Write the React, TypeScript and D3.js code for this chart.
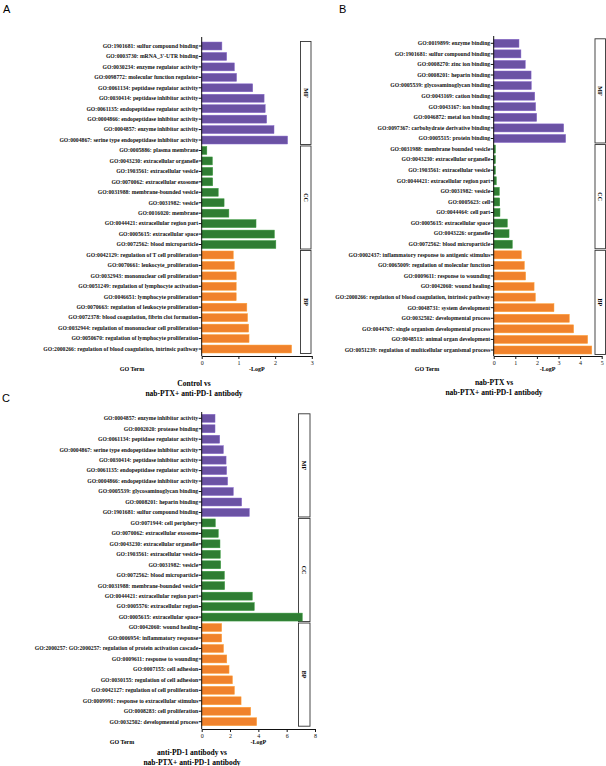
import { useEffect, useRef } from 'react';
import * as d3 from 'd3';

// GO categories, 10 terms each, top to bottom
const groupNames = ['MF', 'CC', 'BP'];
const groupSize = 10;

const termsA = [
  'GO:1901681: sulfur compound binding',
  "GO:0003730: mRNA_3'-UTR binding",
  'GO:0030234: enzyme regulator activity',
  'GO:0098772: molecular function regulator',
  'GO:0061134: peptidase regulator activity',
  'GO:0030414: peptidase inhibitor activity',
  'GO:0061135: endopeptidase regulator activity',
  'GO:0004866: endopeptidase inhibitor activity',
  'GO:0004857: enzyme inhibitor activity',
  'GO:0004867: serine type endopeptidase inhibitor activity',
  'GO:0005886: plasma membrane',
  'GO:0043230: extracellular organelle',
  'GO:1903561: extracellular vesicle',
  'GO:0070062: extracellular exosome',
  'GO:0031988: membrane-bounded vesicle',
  'GO:0031982: vesicle',
  'GO:0016020: membrane',
  'GO:0044421: extracellular region part',
  'GO:0005615: extracellular space',
  'GO:0072562: blood microparticle',
  'GO:0042129: regulation of T cell proliferation',
  'GO:0070661: leukocyte_proliferation',
  'GO:0032943: mononuclear cell proliferation',
  'GO:0051249: regulation of lymphocyte activation',
  'GO:0046651: lymphocyte proliferation',
  'GO:0070663: regulation of leukocyte proliferation',
  'GO:0072378: blood coagulation, fibrin clot formation',
  'GO:0032944: regulation of mononuclear cell proliferation',
  'GO:0050670: regulation of lymphocyte proliferation',
  'GO:2000266: regulation of blood coagulation, intrinsic pathway',
];
const valuesA = [
  0.55, 0.68, 0.89, 0.95, 1.39, 1.7, 1.73, 1.77, 1.97, 2.34,
  0.14, 0.29, 0.3, 0.3, 0.45, 0.61, 0.74, 1.48, 1.98, 2.02,
  0.86, 0.89, 0.94, 0.94, 0.94, 1.23, 1.25, 1.28, 1.29, 2.45,
];

const termsB = [
  'GO:0019899: enzyme binding',
  'GO:1901681: sulfur compound binding',
  'GO:0008270: zinc ion binding',
  'GO:0008201: heparin binding',
  'GO:0005539: glycosaminoglycan binding',
  'GO:0043169: cation binding',
  'GO:0043167: ion binding',
  'GO:0046872: metal ion binding',
  'GO:0097367: carbohydrate derivative binding',
  'GO:0005515: protein binding',
  'GO:0031988: membrane bounded vesicle',
  'GO:0043230: extracellular organelle',
  'GO:1903561: extracellular vesicle',
  'GO:0044421: extracellular region part',
  'GO:0031982: vesicle',
  'GO:0005623: cell',
  'GO:0044464: cell part',
  'GO:0005615: extracellular space',
  'GO:0043226: organelle',
  'GO:0072562: blood microparticle',
  'GO:0002437: inflammatory response to antigenic stimulus',
  'GO:0065009: regulation of molecular function',
  'GO:0009611: response to wounding',
  'GO:0042060: wound healing',
  'GO:2000266: regulation of blood coagulation, intrinsic pathway',
  'GO:0048731: system development',
  'GO:0032502: developmental process',
  'GO:0044767: single organism developmental process',
  'GO:0048513: animal organ development',
  'GO:0051239: regulation of multicellular organismal process',
];
const valuesB = [
  1.17, 1.26, 1.46, 1.73, 1.74, 1.9, 1.94, 1.99, 3.24, 3.33,
  0.08, 0.08, 0.08, 0.12, 0.26, 0.28, 0.29, 0.63, 0.71, 0.86,
  1.28, 1.42, 1.48, 1.87, 1.93, 2.79, 3.5, 3.7, 4.35, 4.54,
];

const termsC = [
  'GO:0004857: enzyme inhibitor activity',
  'GO:0002020: protease binding',
  'GO:0061134: peptidase regulator activity',
  'GO:0004867: serine type endopeptidase inhibitor activity',
  'GO:0030414: peptidase inhibitor activity',
  'GO:0061135: endopeptidase regulator activity',
  'GO:0004866: endopeptidase inhibitor activity',
  'GO:0005539: glycosaminoglycan binding',
  'GO:0008201: heparin binding',
  'GO:1901681: sulfur compound binding',
  'GO:0071944: cell periphery',
  'GO:0070062: extracellular exosome',
  'GO:0043230: extracellular organelle',
  'GO:1903561: extracellular vesicle',
  'GO:0031982: vesicle',
  'GO:0072562: blood microparticle',
  'GO:0031988: membrane-bounded vesicle',
  'GO:0044421: extracellular region part',
  'GO:0005576: extracellular region',
  'GO:0005615: extracellular space',
  'GO:0042060: wound healing',
  'GO:0006954: inflammatory response',
  'GO:2000257: GO:2000257: regulation of protein activation cascade',
  'GO:0009611: response to wounding',
  'GO:0007155: cell adhesion',
  'GO:0030155: regulation of cell adhesion',
  'GO:0042127: regulation of cell proliferation',
  'GO:0009991: response to extracellular stimulus',
  'GO:0008283: cell proliferation',
  'GO:0032502: developmental process',
];
const valuesC = [
  0.94, 0.94, 1.27, 1.53, 1.72, 1.76, 1.83, 2.23, 2.82, 3.36,
  0.96, 1.17, 1.29, 1.31, 1.34, 1.6, 1.62, 3.57, 3.71, 7.1,
  1.41, 1.41, 1.54, 1.77, 1.93, 2.17, 2.31, 2.78, 3.46, 3.88,
];

const ticksA = [0, 1, 2, 3];
const ticksB = [0, 1, 2, 3, 4, 5];
const ticksC = [0, 2, 4, 6, 8];

const titleA = ['Control vs', 'nab-PTX+ anti-PD-1 antibody'];
const titleB = ['nab-PTX vs', 'nab-PTX+ anti-PD-1 antibody'];
const titleC = ['anti-PD-1 antibody vs', 'nab-PTX+ anti-PD-1 antibody'];

const color = d3.scaleOrdinal<string, string>()
  .domain(groupNames)
  .range(['#6b52a4', '#2f7d33', '#f0822c']);

const serif = '"Liberation Serif", "Times New Roman", serif';

interface Panel {
  letter: string;
  letterX: number;
  letterY: number;
  terms: string[];
  values: number[];
  ticks: number[];
  title: string[];
  x0: number;
  x1: number;
  yFirst: number;
  yLast: number;
  axisTop: number;
  axisBottom: number;
  boxX: number;
  boxW: number;
  goTermX: number;
  titleX: number;
  titleY: number;
}

const panels: Panel[] = [
  {
    letter: 'A', letterX: 3, letterY: 13,
    terms: termsA, values: valuesA, ticks: ticksA, title: titleA,
    x0: 201.7, x1: 311.8, yFirst: 46, yLast: 349, axisTop: 37, axisBottom: 356,
    boxX: 300.5, boxW: 10.5, goTermX: 132, titleX: 194, titleY: 385.5,
  },
  {
    letter: 'B', letterX: 339, letterY: 13,
    terms: termsB, values: valuesB, ticks: ticksB, title: titleB,
    x0: 493.7, x1: 601.7, yFirst: 43.3, yLast: 350, axisTop: 36, axisBottom: 356,
    boxX: 595, boxW: 10.5, goTermX: 427, titleX: 494, titleY: 384.5,
  },
  {
    letter: 'C', letterX: 2, letterY: 402,
    terms: termsC, values: valuesC, ticks: ticksC, title: titleC,
    x0: 201.7, x1: 315, yFirst: 418.3, yLast: 721.7, axisTop: 412, axisBottom: 729,
    boxX: 298.5, boxW: 11.5, goTermX: 122, titleX: 192, titleY: 754.5,
  },
];

function drawPanel(svg: d3.Selection<SVGSVGElement, unknown, null, undefined>, p: Panel) {
  const g = svg.append('g');
  const n = p.terms.length;
  const step = (p.yLast - p.yFirst) / (n - 1);

  const x = d3.scaleLinear()
    .domain([0, p.ticks[p.ticks.length - 1]])
    .range([p.x0, p.x1]);

  const y = d3.scaleBand<number>()
    .domain(d3.range(n))
    .range([p.yFirst - step / 2, p.yLast + step / 2])
    .paddingInner(0.24)
    .paddingOuter(0.12);

  // panel letter
  g.append('text')
    .attr('x', p.letterX)
    .attr('y', p.letterY)
    .style('font-family', 'Arial, "Liberation Sans", sans-serif')
    .style('font-size', '11px')
    .text(p.letter);

  // category boxes on the right
  groupNames.forEach((name, gi) => {
    const top = y(gi * groupSize)! + y.bandwidth() / 2 - 4.5;
    const bottom = y(gi * groupSize + groupSize - 1)! + y.bandwidth() / 2 + 4.5;
    g.append('rect')
      .attr('x', p.boxX)
      .attr('y', top)
      .attr('width', p.boxW)
      .attr('height', bottom - top)
      .attr('fill', '#fff')
      .attr('stroke', '#333')
      .attr('stroke-width', 0.9);
    const cx = p.boxX + p.boxW / 2;
    const cy = (top + bottom) / 2;
    g.append('text')
      .attr('transform', `translate(${cx},${cy}) rotate(90)`)
      .attr('text-anchor', 'middle')
      .attr('dy', '0.35em')
      .style('font-family', serif)
      .style('font-weight', 'bold')
      .style('font-size', '6px')
      .text(name);
  });

  // bars
  g.selectAll('.bar')
    .data(p.values)
    .enter().append('rect')
    .attr('x', x(0))
    .attr('y', (_, i) => y(i)!)
    .attr('width', d => x(d) - x(0))
    .attr('height', y.bandwidth())
    .attr('fill', (_, i) => color(groupNames[Math.floor(i / groupSize)]))
    .attr('stroke', (_, i) => d3.color(color(groupNames[Math.floor(i / groupSize)]))!.brighter(0.6).formatHex())
    .attr('stroke-width', 0.5);

  // y axis with term labels
  const yAxis = g.append('g')
    .attr('transform', `translate(${p.x0},0)`)
    .call(d3.axisLeft(y).tickSize(3).tickSizeOuter(0).tickFormat(i => p.terms[i as number]));
  yAxis.select('.domain').remove();
  yAxis.selectAll('line').attr('stroke', '#111');
  yAxis.selectAll('text')
    .attr('x', -3.5)
    .style('font-family', serif)
    .style('font-weight', 'bold')
    .style('font-size', '5.7px')
    .style('fill', '#111');

  g.append('line')
    .attr('x1', p.x0).attr('x2', p.x0)
    .attr('y1', p.axisTop).attr('y2', p.axisBottom)
    .attr('stroke', '#111')
    .attr('stroke-width', 1);

  // x axis
  const xAxis = g.append('g')
    .attr('transform', `translate(0,${p.axisBottom})`)
    .call(d3.axisBottom(x).tickValues(p.ticks).tickSize(3).tickSizeOuter(0).tickFormat(d3.format('d')));
  xAxis.select('.domain').attr('stroke', '#111');
  xAxis.selectAll('line').attr('stroke', '#111');
  xAxis.selectAll('text')
    .attr('y', 4.5)
    .style('font-family', serif)
    .style('font-size', '6px')
    .style('fill', '#111');

  g.append('text')
    .attr('x', (p.x0 + p.x1) / 2)
    .attr('y', p.axisBottom + 14.5)
    .attr('text-anchor', 'middle')
    .style('font-family', serif)
    .style('font-weight', 'bold')
    .style('font-size', '6px')
    .text('-LogP');

  g.append('text')
    .attr('x', p.goTermX)
    .attr('y', p.axisBottom + 14.5)
    .attr('text-anchor', 'middle')
    .style('font-family', serif)
    .style('font-weight', 'bold')
    .style('font-size', '6px')
    .text('GO Term');

  // comparison title
  p.title.forEach((line, li) => {
    g.append('text')
      .attr('x', p.titleX)
      .attr('y', p.titleY + li * 10)
      .attr('text-anchor', 'middle')
      .style('font-family', serif)
      .style('font-weight', 'bold')
      .style('font-size', '7.5px')
      .text(line);
  });
}

export default function App() {
  const svgRef = useRef<SVGSVGElement>(null);

  useEffect(() => {
    if (!svgRef.current) return;
    document.body.style.margin = '0';
    const svg = d3.select(svgRef.current);
    svg.selectAll('*').remove();
    svg.append('rect').attr('width', 606).attr('height', 766).attr('fill', '#fff');
    panels.forEach(p => drawPanel(svg, p));
  }, []);

  return (
    <svg
      ref={svgRef}
      width={606}
      height={766}
      style={{ display: 'block' }}
    />
  );
}
